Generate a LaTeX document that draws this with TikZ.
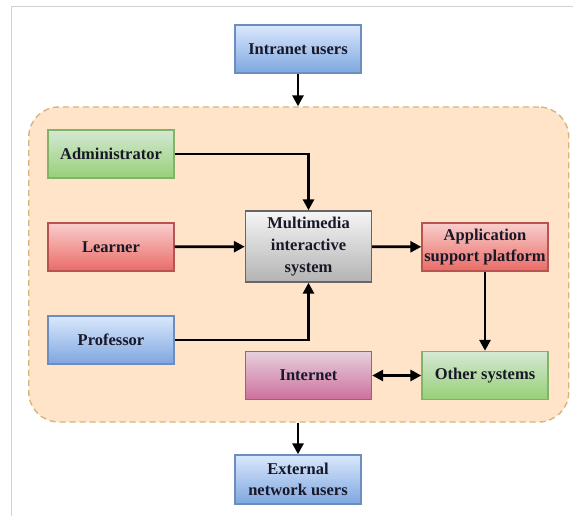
\documentclass[tikz,border=0pt]{standalone}
\usepackage{fontspec}
\usepackage{xcolor}
\usepackage{tikz}
\usetikzlibrary{arrows.meta, positioning}
\setmainfont{Liberation Serif}
\definecolor{regionfill}{RGB}{255, 228, 202}
\definecolor{regionline}{RGB}{214, 182, 120}
\definecolor{txtnavy}{RGB}{24, 24, 40}
\definecolor{bluetop}{RGB}{218, 232, 252}
\definecolor{bluebot}{RGB}{126, 166, 224}
\definecolor{blueline}{RGB}{108, 142, 191}
\definecolor{greentop}{RGB}{213, 232, 212}
\definecolor{greenbot}{RGB}{151, 208, 119}
\definecolor{greenline}{RGB}{130, 179, 102}
\definecolor{redtop}{RGB}{248, 206, 204}
\definecolor{redbot}{RGB}{234, 107, 102}
\definecolor{redline}{RGB}{184, 84, 80}
\definecolor{graytop}{RGB}{245, 245, 245}
\definecolor{graybot}{RGB}{179, 179, 179}
\definecolor{grayline}{RGB}{102, 102, 102}
\definecolor{pinktop}{RGB}{230, 208, 222}
\definecolor{pinkbot}{RGB}{205, 112, 155}
\definecolor{pinkline}{RGB}{153, 97, 133}

\begin{document}
\begin{tikzpicture}[x=1pt, y=-1pt,
    box/.style={draw, line width=1.4pt, minimum width=126pt, minimum height=48pt,
        inner sep=2pt, align=center, text=txtnavy,
        font=\fontsize{16.5}{21.7}\selectfont\bfseries},
    bluebox/.style={box, draw=blueline, top color=bluetop, bottom color=bluebot},
    greenbox/.style={box, draw=greenline, top color=greentop, bottom color=greenbot},
    redbox/.style={box, draw=redline, top color=redtop, bottom color=redbot},
    graybox/.style={box, draw=grayline, top color=graytop, bottom color=graybot},
    pinkbox/.style={box, draw=pinkline, top color=pinktop, bottom color=pinkbot},
    link/.style={line width=2.8pt, -{Triangle[length=11pt, width=11pt]}}]
    \useasboundingbox (0, 0) rectangle (573, 516);
    \draw[gray!35, line width=1pt] (11, 516) -- (11, 7) -- (573, 7);

    % 虚线区域
    \node[draw=regionline, fill=regionfill, dash pattern=on 6pt off 4pt,
        line width=1.4pt, rounded corners=30pt, minimum width=540pt, minimum height=315pt]
        (region) at (298.75, 264.5) {};

    % 上下用户
    \node[bluebox] (intra) at (298, 49) {Intranet users};
    \node[bluebox, minimum height=49pt] (extern) at (298, 479.5) {External\\network users};

    % 左侧角色
    \foreach \n/\t/\y/\s in {admin/Administrator/154/greenbox, learner/Learner/247/redbox, prof/Professor/340/bluebox} {
        \node[\s] (\n) at (111, \y) {\t};
    }

    % 中间与右侧
    \node[graybox, minimum height=71pt] (mm) at (308.5, 246.5) {Multimedia\\interactive\\system};
    \node[redbox] (app) at (485, 247) {Application\\support platform};
    \node[pinkbox] (inet) at (308.5, 375.5) {Internet};
    \node[greenbox] (other) at (485, 375.5) {Other systems};

    % 连线
    \draw[link] (intra.south) -- (intra.south |- region.north);
    \draw[link] (extern.north |- region.south) -- (extern.north);
    \draw[link] (admin.east) -| (mm.north);
    \draw[link] (learner) -- (mm);
    \draw[link] (prof.east) -| (mm.south);
    \draw[link] (mm) -- (app);
    \draw[link] (app) -- (other);
    \draw[link, {Triangle[length=11pt, width=11pt]}-{Triangle[length=11pt, width=11pt]}] (inet) -- (other);
\end{tikzpicture}
\end{document}
